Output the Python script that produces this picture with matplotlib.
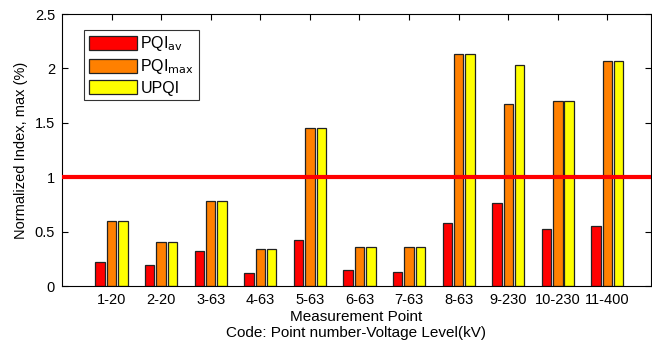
import matplotlib.pyplot as plt
import numpy as np

plt.rcParams['font.family'] = ['Liberation Sans', 'DejaVu Sans']

categories = ["1-20", "2-20", "3-63", "4-63", "5-63", "6-63", "7-63",
              "8-63", "9-230", "10-230", "11-400"]
pqi_av = [0.22, 0.19, 0.32, 0.12, 0.42, 0.15, 0.13, 0.58, 0.76, 0.52, 0.55]
pqi_max = [0.60, 0.40, 0.78, 0.34, 1.45, 0.36, 0.36, 2.13, 1.67, 1.70, 2.07]
upqi = [0.60, 0.40, 0.78, 0.34, 1.45, 0.36, 0.36, 2.13, 2.03, 1.70, 2.07]
limit = 1.0

fig = plt.figure(figsize=(6.52, 3.46), dpi=100)
ax = fig.add_axes([62 / 652, 1 - 286 / 346, 589 / 652, 272 / 346])

x = np.arange(1, len(categories) + 1)
w = 0.19
off = 0.23
ax.bar(x - off, pqi_av, w, color="#ff0000", edgecolor="#222222", linewidth=0.9,
       label=r"PQI$_{\mathrm{av}}$", zorder=2)
ax.bar(x, pqi_max, w, color="#ff8000", edgecolor="#222222", linewidth=0.9,
       label=r"PQI$_{\mathrm{max}}$", zorder=2)
ax.bar(x + off, upqi, w, color="#ffff00", edgecolor="#222222", linewidth=0.9,
       label="UPQI", zorder=2)
ax.axhline(limit, color="#ff0000", linewidth=3, zorder=3)

ax.set_xlim(0, 11.88)
ax.set_ylim(0, 2.5)
ax.set_xticks(x)
ax.set_xticklabels(categories)
ax.set_yticks([0, 0.5, 1, 1.5, 2, 2.5])
ax.set_yticklabels(["0", "0.5", "1", "1.5", "2", "2.5"])
ax.tick_params(direction="in", top=True, right=True, length=4, labelsize=10.5,
               pad=5)
for s in ax.spines.values():
    s.set_linewidth(0.8)

ax.set_ylabel("Normalized Index, max (%)", fontsize=10.5, labelpad=5)
ax.set_xlabel("Measurement Point\nCode: Point number-Voltage Level(kV)",
              fontsize=11, labelpad=2, linespacing=1.25)

leg = ax.legend(loc="upper left", bbox_to_anchor=(0.037, 0.943), fontsize=11.5,
                frameon=True, fancybox=False, edgecolor="black",
                handlelength=3.0, handleheight=0.95, borderpad=0.3,
                labelspacing=0.25, handletextpad=0.25, borderaxespad=0)
leg.get_frame().set_linewidth(0.8)

fig.savefig("out.png", dpi=100)
